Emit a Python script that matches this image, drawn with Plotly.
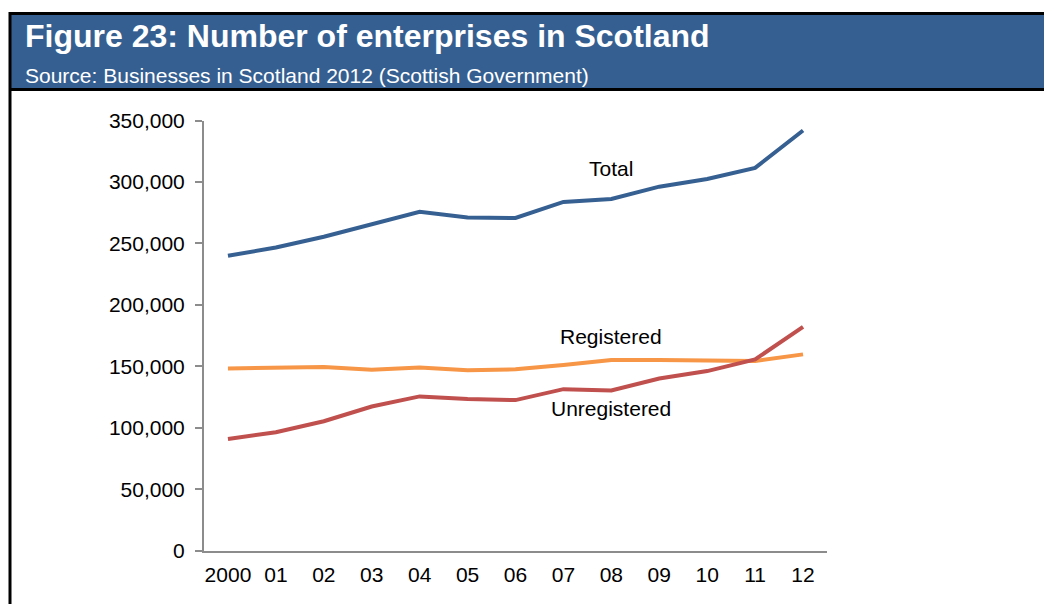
import plotly.graph_objects as go

# Number of enterprises in Scotland, 2000-2012
years = ["2000", "01", "02", "03", "04", "05", "06", "07", "08", "09", "10", "11", "12"]
total = [240000, 246700, 255500, 265800, 275800, 271200, 270700, 283800, 286200, 296200, 302500, 311500, 341900]
registered = [148400, 149200, 149500, 147300, 149200, 146800, 147600, 151100, 155200, 155200, 154900, 154400, 159800]
unregistered = [91000, 96500, 105400, 117400, 125600, 123400, 122600, 131500, 130500, 140200, 146200, 155700, 182100]

y_ticks = [0, 50000, 100000, 150000, 200000, 250000, 300000, 350000]

series_names = ["Total", "Registered", "Unregistered"]
series_colors = ["#376092", "#F79646", "#C0504D"]
series_values = [total, registered, unregistered]

W, H = 1044, 616
FONT = "Liberation Sans, Arial, sans-serif"
HEADER_BLUE = "#365F91"

# layout positions are given in page pixels; the figure sits a few rows
# below the page top and the page is shown slightly squeezed vertically
SQUEEZE = 0.962
TOP = 12


def px(x):
    return x / W


def py(y):
    fy = y / SQUEEZE - TOP
    fy = min(max(fy, 0), H)
    return 1 - fy / H


fig = go.Figure()
for name, color, vals in zip(series_names, series_colors, series_values):
    fig.add_trace(go.Scatter(
        x=years, y=vals, mode="lines", name=name,
        line=dict(color=color, width=4),
        hoverinfo="x+y+name",
    ))

# Series labels placed next to their lines
label_pos = {"Total": (8, 311000), "Registered": (8, 174000), "Unregistered": (8, 116000)}
annotations = []
for name in series_names:
    xi, yv = label_pos[name]
    annotations.append(dict(
        x=xi, y=yv, xref="x", yref="y", text=name, showarrow=False,
        font=dict(family=FONT, size=21, color="#000000"),
        xanchor="center", yanchor="middle",
    ))

# Header title and source line
annotations.append(dict(
    x=px(23), y=py(36), xref="paper", yref="paper",
    text="<b>Figure 23: Number of enterprises in Scotland</b>",
    showarrow=False, xanchor="left", yanchor="middle",
    font=dict(family=FONT, size=32, color="#FFFFFF"),
))
annotations.append(dict(
    x=px(23), y=py(75), xref="paper", yref="paper",
    text="Source: Businesses in Scotland 2012 (Scottish Government)",
    showarrow=False, xanchor="left", yanchor="middle",
    font=dict(family=FONT, size=21, color="#FFFFFF"),
))

shapes = [
    # blue header band
    dict(type="rect", xref="paper", yref="paper", x0=px(10), x1=1, y0=py(89), y1=py(0),
         fillcolor=HEADER_BLUE, line=dict(width=0), layer="below"),
    # frame lines
    dict(type="line", xref="paper", yref="paper", x0=px(9), x1=1, y0=1 - 1.5 / H, y1=1 - 1.5 / H,
         line=dict(color="#000000", width=3)),
    dict(type="line", xref="paper", yref="paper", x0=px(9), x1=1, y0=py(89), y1=py(89),
         line=dict(color="#000000", width=3)),
    dict(type="line", xref="paper", yref="paper", x0=px(10), x1=px(10), y0=0, y1=1,
         line=dict(color="#000000", width=3)),
]

fig.update_layout(
    width=W, height=H, autosize=False,
    margin=dict(l=0, r=0, t=0, b=0),
    paper_bgcolor="#FFFFFF", plot_bgcolor="#FFFFFF",
    showlegend=False,
    font=dict(family=FONT, size=21, color="#000000"),
    annotations=annotations,
    shapes=shapes,
    xaxis=dict(
        domain=[px(204), px(827)],
        type="category",
        range=[-0.5, 12.5],
        showgrid=False, zeroline=False,
        showline=True, linecolor="#8C8C8C", linewidth=2,
        ticks="", ticklabelstandoff=4,
        tickfont=dict(family=FONT, size=21, color="#000000"),
    ),
    yaxis=dict(
        domain=[py(550), py(120)],
        range=[0, 350000],
        tickvals=y_ticks,
        tickformat=",d",
        showgrid=False, zeroline=False,
        showline=True, linecolor="#8C8C8C", linewidth=2,
        ticks="outside", ticklen=7, tickcolor="#8C8C8C", tickwidth=2,
        ticklabelstandoff=6,
        tickfont=dict(family=FONT, size=21, color="#000000"),
    ),
)

fig.write_html("out.html")
